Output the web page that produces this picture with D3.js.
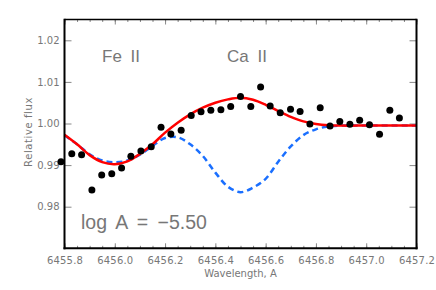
<!DOCTYPE html>
<html>
<head>
<meta charset="utf-8">
<script src="https://cdn.jsdelivr.net/npm/d3@7"></script>
<style>
  body { margin: 0; background: #fff; }
  svg { display: block; }
  text { font-family: "DejaVu Sans", sans-serif; fill: #777; }
</style>
</head>
<body>
<div id="chart"></div>
<script>
const w = 436;
const h = 290;

// observed spectrum (wavelength, relative flux)
const obsWave = [6455.786, 6455.829, 6455.868, 6455.909, 6455.948, 6455.988, 6456.027, 6456.064,
  6456.104, 6456.145, 6456.184, 6456.223, 6456.264, 6456.304, 6456.343, 6456.382, 6456.422,
  6456.461, 6456.500, 6456.541, 6456.580, 6456.618, 6456.658, 6456.699, 6456.737, 6456.776,
  6456.817, 6456.856, 6456.895, 6456.935, 6456.974, 6457.013, 6457.053, 6457.094, 6457.132];
const obsFlux = [0.9908, 0.9927, 0.9925, 0.9840, 0.9876, 0.9879, 0.9893, 0.9921,
  0.9934, 0.9944, 0.9991, 0.9975, 0.9984, 1.0019, 1.0028, 1.0032, 1.0033,
  1.0041, 1.0065, 1.0041, 1.0088, 1.0042, 1.0026, 1.0034, 1.0029, 0.9999,
  1.0038, 0.9994, 1.0005, 0.9998, 1.0008, 0.9997, 0.9974, 1.0032, 1.0013];

// model wavelengths
const modelWave = [6455.80, 6455.85, 6455.90, 6455.95, 6456.00, 6456.05, 6456.10, 6456.15,
  6456.20, 6456.25, 6456.30, 6456.35, 6456.40, 6456.45, 6456.50, 6456.55, 6456.60, 6456.65,
  6456.70, 6456.75, 6456.80, 6456.85, 6456.90, 6457.00, 6457.10, 6457.20];
// fitted synthetic (red)
const fitFlux = [0.9973, 0.9950, 0.9924, 0.9907, 0.9902, 0.9909, 0.9927, 0.9950,
  0.9978, 1.0002, 1.0022, 1.0038, 1.0050, 1.0058, 1.0062, 1.0057, 1.0045, 1.0030,
  1.0016, 1.0005, 0.9999, 0.9996, 0.9995, 0.9995, 0.9995, 0.9995];
// synthetic with log A = -5.50 (blue dashed)
const altFlux = [0.9972, 0.9950, 0.9926, 0.9911, 0.9907, 0.9911, 0.9925, 0.9946,
  0.9965, 0.9967, 0.9950, 0.9922, 0.9882, 0.9848, 0.9835, 0.9846, 0.9867, 0.9908,
  0.9945, 0.9972, 0.9986, 0.9993, 0.9995, 0.9995, 0.9995, 0.9995];

const xTicks = [6455.8, 6456.0, 6456.2, 6456.4, 6456.6, 6456.8, 6457.0, 6457.2];
const yTicks = [0.98, 0.99, 1.00, 1.01, 1.02];

const pL = 64.5, pR = 416.5, pT = 19.5, pB = 248.3;

const x = d3.scaleLinear().domain([6455.8, 6457.2]).range([pL, pR]);
const y = d3.scaleLinear().domain([0.970, 1.025]).range([pB, pT]);

const svg = d3.select('#chart').append('svg')
  .attr('width', w)
  .attr('height', h);

const minor = d3.range(6455.8, 6457.2001, 0.05).map(v => +v.toFixed(2));

// bottom ticks (inward)
svg.append('g')
  .attr('transform', 'translate(0,' + pB + ')')
  .call(d3.axisTop(x).tickValues(minor).tickSize(2.5).tickFormat(''))
  .call(g => g.select('.domain').remove());
svg.append('g')
  .attr('transform', 'translate(0,' + pB + ')')
  .call(d3.axisTop(x).tickValues(xTicks).tickSize(5).tickFormat(''))
  .call(g => g.select('.domain').remove());
// bottom labels
svg.append('g')
  .attr('transform', 'translate(0,' + pB + ')')
  .call(d3.axisBottom(x).tickValues(xTicks).tickSize(0).tickPadding(9).tickFormat(d3.format('.1f')))
  .call(g => g.select('.domain').remove())
  .selectAll('text').style('font-size', '10px').style('letter-spacing', '0.2px').attr('fill', '#777');

// top ticks (inward)
svg.append('g')
  .attr('transform', 'translate(0,' + pT + ')')
  .call(d3.axisBottom(x).tickValues(minor).tickSize(2.5).tickFormat(''))
  .call(g => g.select('.domain').remove());
svg.append('g')
  .attr('transform', 'translate(0,' + pT + ')')
  .call(d3.axisBottom(x).tickValues(xTicks).tickSize(5).tickFormat(''))
  .call(g => g.select('.domain').remove());

// left axis
svg.append('g')
  .attr('transform', 'translate(' + pL + ',0)')
  .call(d3.axisRight(y).tickValues(yTicks).tickSize(7).tickFormat(''))
  .call(g => g.select('.domain').remove());
svg.append('g')
  .attr('transform', 'translate(' + pL + ',0)')
  .call(d3.axisLeft(y).tickValues(yTicks).tickSize(0).tickPadding(5).tickFormat(d3.format('.2f')))
  .call(g => g.select('.domain').remove())
  .selectAll('text').style('font-size', '10px').attr('fill', '#777');

// right axis
svg.append('g')
  .attr('transform', 'translate(' + pR + ',0)')
  .call(d3.axisLeft(y).tickValues(yTicks).tickSize(7).tickFormat(''))
  .call(g => g.select('.domain').remove());

svg.selectAll('.tick line').attr('stroke', '#888').attr('stroke-width', 1);

// blue dashed model
svg.append('path')
  .datum(modelWave.map((d, i) => [d, altFlux[i]]))
  .attr('fill', 'none')
  .attr('stroke', '#1a6fff')
  .attr('stroke-width', 2.5)
  .attr('stroke-dasharray', '6 4')
  .attr('d', d3.line()
    .curve(d3.curveCatmullRom)
    .x(d => x(d[0]))
    .y(d => y(d[1])));

// red fit
svg.append('path')
  .datum(modelWave.map((d, i) => [d, fitFlux[i]]))
  .attr('fill', 'none')
  .attr('stroke', '#ff0000')
  .attr('stroke-width', 2.5)
  .attr('d', d3.line()
    .curve(d3.curveCatmullRom)
    .x(d => x(d[0]))
    .y(d => y(d[1])));

// observed points
svg.selectAll('circle.obs')
  .data(obsWave.map((d, i) => [d, obsFlux[i]]))
  .enter()
  .append('circle')
  .attr('class', 'obs')
  .attr('cx', d => x(d[0]))
  .attr('cy', d => y(d[1]))
  .attr('r', 3.5)
  .attr('fill', '#000');

// frame
svg.append('line').attr('x1', pL).attr('x2', pR).attr('y1', pT).attr('y2', pT)
  .attr('stroke', '#000').attr('stroke-width', 1.5);
svg.append('line').attr('x1', pL).attr('x2', pL).attr('y1', pT - 0.75).attr('y2', pB + 1)
  .attr('stroke', '#000').attr('stroke-width', 2);
svg.append('line').attr('x1', pR).attr('x2', pR).attr('y1', pT - 0.75).attr('y2', pB + 1)
  .attr('stroke', '#000').attr('stroke-width', 2);
svg.append('line').attr('x1', pL - 1).attr('x2', pR + 1).attr('y1', pB).attr('y2', pB)
  .attr('stroke', '#000').attr('stroke-width', 2);

// axis titles
svg.append('text')
  .attr('x', (pL + pR) / 2)
  .attr('y', 277)
  .attr('text-anchor', 'middle')
  .style('font-size', '10px')
  .text('Wavelength, A');

svg.append('text')
  .attr('text-anchor', 'middle')
  .attr('transform', 'translate(31.5,132)rotate(-90)')
  .style('font-size', '10px')
  .style('letter-spacing', '0.6px')
  .text('Relative flux');

// annotations
svg.append('text')
  .attr('x', 102)
  .attr('y', 62)
  .style('font-family', '"Liberation Sans", Arial, sans-serif')
  .style('font-size', '17px')
  .style('word-spacing', '4px')
  .style('white-space', 'pre')
  .attr('fill', '#808080')
  .text('Fe II');

svg.append('text')
  .attr('x', 227)
  .attr('y', 62)
  .style('font-family', '"Liberation Sans", Arial, sans-serif')
  .style('font-size', '17px')
  .style('word-spacing', '4px')
  .style('white-space', 'pre')
  .attr('fill', '#808080')
  .text('Ca II');

svg.append('text')
  .attr('x', 81)
  .attr('y', 229)
  .style('font-family', '"Liberation Sans", Arial, sans-serif')
  .style('font-size', '19.5px')
  .style('word-spacing', '4px')
  .style('white-space', 'pre')
  .attr('fill', '#808080')
  .text('log A = \u22125.50');
</script>
</body>
</html>
